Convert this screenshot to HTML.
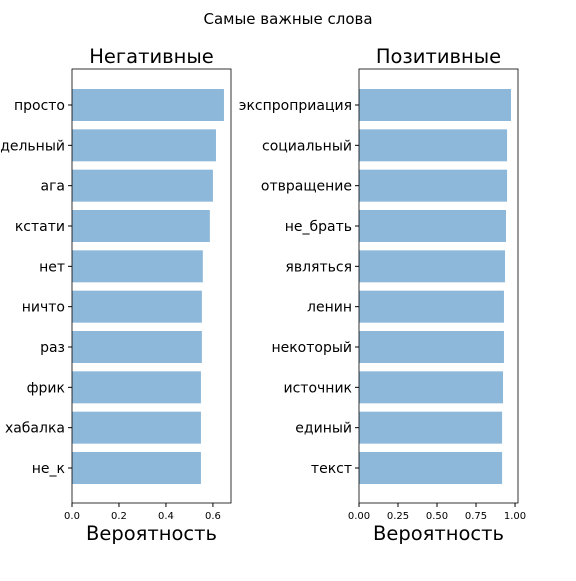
<!DOCTYPE html>
<html><head><meta charset="utf-8"><style>
body{margin:0;background:#fff;}
svg{font-family:"DejaVu Sans","Liberation Sans",sans-serif;}
</style></head><body>
<svg id="c" width="576" height="576">
<text x="288" y="24" text-anchor="middle" font-size="15">Самые важные слова</text>
</svg>
<script>
const negWords=["просто","дельный","ага","кстати","нет","ничто","раз","фрик","хабалка","не_к"];
const negVals=[0.647,0.613,0.600,0.587,0.557,0.553,0.553,0.549,0.549,0.549];
const negTicks=[0.0,0.2,0.4,0.6];
const negTickLabels=["0.0","0.2","0.4","0.6"];
const posWords=["экспроприация","социальный","отвращение","не_брать","являться","ленин","некоторый","источник","единый","текст"];
const posVals=[0.974,0.949,0.949,0.942,0.936,0.929,0.929,0.923,0.917,0.917];
const posTicks=[0,0.25,0.5,0.75,1.0];
const posTickLabels=["0.00","0.25","0.50","0.75","1.00"];
const NS="http://www.w3.org/2000/svg";
const svg=document.getElementById('c');
function mk(t,a,p){const e=document.createElementNS(NS,t);for(const k in a)e.setAttribute(k,a[k]);(p||svg).appendChild(e);return e;}
function panel(prefix,title,x0,x1,xmax,words,vals,ticks,tl){
  const y0=69,y1=503;
  const sx=v=>x0+v/xmax*(x1-x0);
  const g=mk('g',{});
  
  
  const t=mk('text',{x:(x0+x1)/2,y:y0-6,'text-anchor':'middle','font-size':19.5},g);t.textContent=title;
  
  
  words.forEach((w,i)=>{
    const cy=105+(468-105)/9*i, h=32;
    const r=mk('rect',{x:sx(0),y:cy-h/2,width:sx(vals[i])-sx(0),height:h,fill:'#8db8d9'},g);
    
    
    mk('line',{x1:x0-4,x2:x0,y1:cy,y2:cy,stroke:'#000'},g);
    const l=mk('text',{x:x0-7,y:cy+5,'text-anchor':'end','font-size':14},g);l.textContent=w;
    
    
  });
  ticks.forEach((v,i)=>{
    const x=sx(v);
    mk('line',{x1:x,x2:x,y1:y1,y2:y1+4,stroke:'#000'},g);
    const l=mk('text',{x:x,y:y1+16,'text-anchor':'middle','font-size':10},g);l.textContent=tl[i];
    
    
  });
  const fr=mk('rect',{x:x0,y:y0,width:x1-x0,height:y1-y0,fill:'none',stroke:'#000','stroke-width':0.8},g);
  
  
  const xt=mk('text',{x:(x0+x1)/2,y:540,'text-anchor':'middle','font-size':19.5},g);xt.textContent='Вероятность';
  
  
}
panel('negative','Негативные',72,231,0.677,negWords,negVals,negTicks,negTickLabels);
panel('positive','Позитивные',359,518,1.019,posWords,posVals,posTicks,posTickLabels);
</script>
</body></html>
